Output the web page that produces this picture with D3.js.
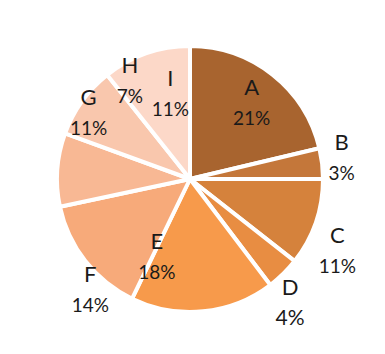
<!DOCTYPE html>
<html>
<head>
<meta charset="utf-8">
<script src="https://cdn.jsdelivr.net/npm/d3@7"></script>
<style>
  body { margin: 0; background: #fff; }
  .lbl { font-family: Lato, "Open Sans", sans-serif; fill: #1a1a1a; }
</style>
</head>
<body>
<div class="pie-chart"></div>
<script>
// slice sizes as drawn (clockwise from 12 o'clock)
const sliceValues = [21.3, 3.7, 10.6, 4.1, 17.5, 14.5, 8.9, 8.75, 10.7];
const sliceColors = ["#a8642f", "#c4773a", "#d5823c", "#e88d42", "#f79a4b",
                     "#f7aa7a", "#f8b894", "#f9c7ad", "#fcd8c8"];

// text labels shown on the chart
const labelNames = ["A", "B", "C", "D", "E", "F", "G", "H", "I"];
const labelPcts  = ["21%", "3%", "11%", "4%", "18%", "14%", "11%", "7%", "11%"];
// label placement: [angle in degrees clockwise from top, distance from centre]
const labelPlace = [[39, 98], [82, 153], [116, 164], [141, 159], [203, 85],
                    [222, 149], [303, 121], [328.5, 115], [347, 87]];

const width = 385, height = 354;
const cx = 190, cy = 179, radius = 133;

const svg = d3.select(".pie-chart").append("svg")
  .attr("width", width)
  .attr("height", height);

const g = svg.append("g").attr("transform", `translate(${cx},${cy})`);

const pie = d3.pie().sort(null).value(d => d);
const arc = d3.arc().innerRadius(0).outerRadius(radius);

g.selectAll(".slice")
  .data(pie(sliceValues))
  .join("path")
  .attr("class", "slice")
  .attr("d", arc)
  .attr("fill", (d, i) => sliceColors[i])
  .attr("stroke", "#fff")
  .attr("stroke-width", 4)
  .attr("stroke-linejoin", "round");

// labels
const labels = g.selectAll(".label")
  .data(labelNames.map((n, i) => ({ name: n, pct: labelPcts[i], place: labelPlace[i] })))
  .join("g")
  .attr("class", "label")
  .attr("transform", d => {
    const a = d.place[0] * Math.PI / 180;
    return `translate(${Math.sin(a) * d.place[1]},${-Math.cos(a) * d.place[1]})`;
  });

labels.append("text")
  .attr("class", "lbl")
  .attr("text-anchor", "middle")
  .attr("y", -8)
  .style("font-size", "22px")
  .text(d => d.name);

labels.append("text")
  .attr("class", "lbl")
  .attr("text-anchor", "middle")
  .attr("y", 22)
  .style("font-size", (d, i) => i === 3 ? "21px" : "19px")
  .text(d => d.pct);
</script>
</body>
</html>
